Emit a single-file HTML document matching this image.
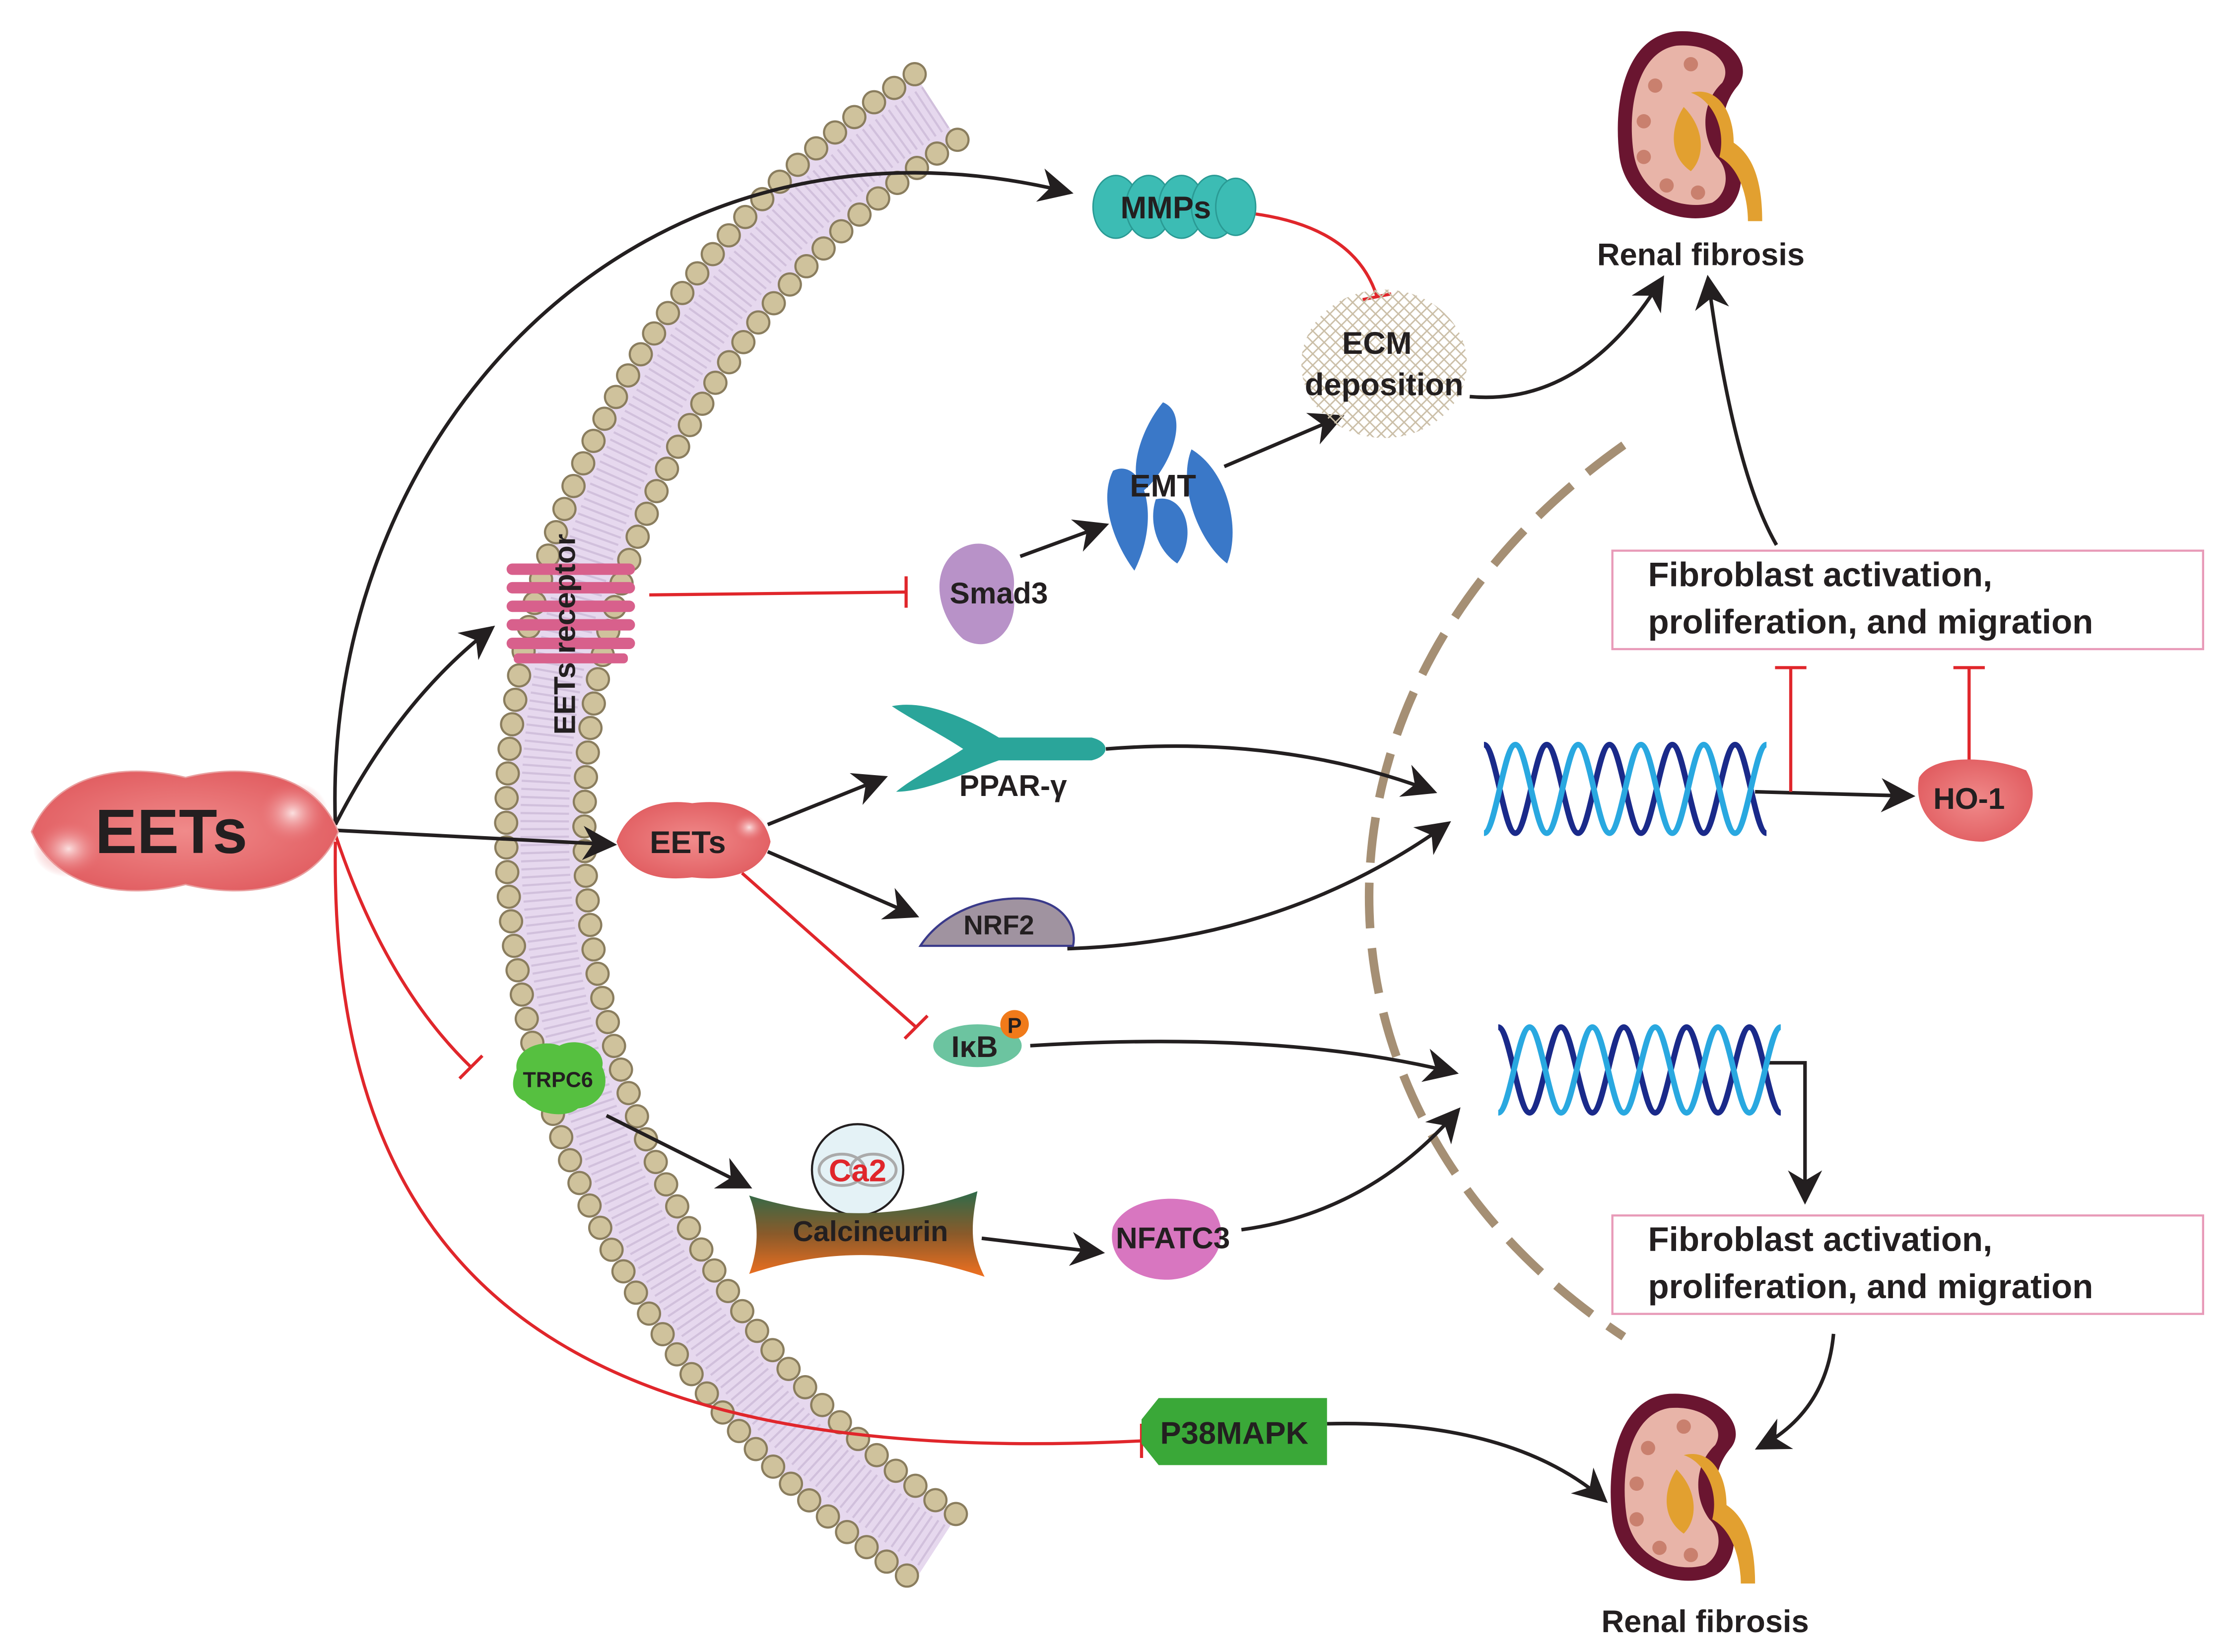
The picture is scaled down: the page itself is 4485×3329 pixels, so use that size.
<!DOCTYPE html>
<html><head><meta charset="utf-8"><style>
html,body{margin:0;padding:0;background:#fff}
svg{display:block}
text{font-family:"Liberation Sans",Arial,sans-serif;font-weight:bold;fill:#231f20}
</style></head><body>
<svg width="4485" height="3329" viewBox="0 0 1560 1158" xmlns="http://www.w3.org/2000/svg">
<defs>
<marker id="ah2" viewBox="0 0 10 10" refX="9" refY="5" markerWidth="24" markerHeight="24" markerUnits="userSpaceOnUse" orient="auto"><path d="M0,0 L10,5 L0,10 L3,5 z" fill="#231f20"/></marker>
<radialGradient id="red" cx="50%" cy="50%" r="60%"><stop offset="0" stop-color="#f08a8a"/><stop offset="1" stop-color="#e05a5e"/></radialGradient>
<radialGradient id="hl" cx="50%" cy="50%" r="50%"><stop offset="0" stop-color="#fbe0e0"/><stop offset="1" stop-color="#e86a6e" stop-opacity="0"/></radialGradient>
<linearGradient id="calc" x1="0" y1="0" x2="0" y2="1"><stop offset="0" stop-color="#2e6b4a"/><stop offset="0.5" stop-color="#8a5a2a"/><stop offset="1" stop-color="#f07020"/></linearGradient>
<pattern id="mesh" width="8" height="8" patternUnits="userSpaceOnUse"><path d="M0,0 L8,8 M8,0 L0,8" stroke="#cbbfa8" stroke-width="1"/></pattern>
</defs>

<!-- membrane: center (985,580) -->
<path d="M 656 75 A 602 602 0 0 0 656 1085" fill="none" stroke="#e6d8ee" stroke-width="52"/>
<path d="M 656 75 A 602 602 0 0 0 656 1085" fill="none" stroke="#b9a5c6" stroke-width="34" stroke-dasharray="1.5 4" opacity="0.45"/>
<path d="M 641 52 A 630 630 0 0 0 641 1108" fill="none" stroke="#8a7d5e" stroke-width="17" stroke-linecap="round" stroke-dasharray="0 17.3"/>
<path d="M 641 52 A 630 630 0 0 0 641 1108" fill="none" stroke="#cfc29c" stroke-width="14" stroke-linecap="round" stroke-dasharray="0 17.3"/>
<path d="M 671 98 A 575 575 0 0 0 671 1062" fill="none" stroke="#8a7d5e" stroke-width="17" stroke-linecap="round" stroke-dasharray="0 17.3"/>
<path d="M 671 98 A 575 575 0 0 0 671 1062" fill="none" stroke="#cfc29c" stroke-width="14" stroke-linecap="round" stroke-dasharray="0 17.3"/>

<!-- nucleus dashed arc -->
<path d="M1138,312 C 900,480 900,780 1138,937" fill="none" stroke="#a58f74" stroke-width="6" stroke-dasharray="32 14"/>

<!-- connectors black -->
<g fill="none" stroke="#231f20" stroke-width="2.5" marker-end="url(#ah2)">
<path d="M235,578 C 225,300 450,60 750,135"/>
<path d="M235,578 Q 280,490 345,440"/>
<path d="M235,582 L 430,592"/>
<path d="M715,390 L 775,368"/>
<path d="M858,327 L 940,292"/>
<path d="M1030,278 Q 1110,285 1165,195"/>
<path d="M1245,382 Q 1215,330 1197,195"/>
<path d="M538,578 L 620,545"/>
<path d="M538,597 L 642,642"/>
<path d="M775,525 Q 900,515 1005,555"/>
<path d="M748,665 Q 900,660 1015,577"/>
<path d="M722,733 Q 900,722 1020,752"/>
<path d="M870,862 Q 960,850 1022,778"/>
<path d="M425,782 L 525,832"/>
<path d="M688,868 L 772,878"/>
<path d="M1230,555 L 1340,558"/>
<path d="M1240,745 L 1265,745 L 1265,842"/>
<path d="M1285,935 Q 1280,990 1232,1015"/>
<path d="M930,998 Q 1060,995 1125,1052"/>
</g>
<!-- red inhibitors -->
<g fill="none" stroke="#e0262b" stroke-width="2.2">
<path d="M235,585 Q 270,690 330,748"/><path d="M322,756 L338,740"/>
<path d="M235,590 C 230,900 400,1030 800,1010"/><path d="M800,998 L800,1022"/>
<path d="M455,417 L 635,415"/><path d="M635,404 L635,426"/>
<path d="M880,150 Q 950,160 965,208"/><path d="M955,210 L975,206"/>
<path d="M520,612 L 642,720"/><path d="M634,728 L650,712"/>
<path d="M1255,555 L1255,468"/><path d="M1244,468 L1266,468"/>
<path d="M1380,535 L1380,468"/><path d="M1369,468 L1391,468"/>
</g>

<!-- big EETs -->
<path d="M22,583 C 40,540 90,535 130,545 C 170,535 220,540 237,583 C 220,625 170,630 130,620 C 90,630 40,625 22,583 Z" fill="url(#red)" stroke="#e9a0a0"/>
<ellipse cx="48" cy="595" rx="25" ry="20" fill="url(#hl)"/>
<ellipse cx="205" cy="570" rx="25" ry="22" fill="url(#hl)"/>
<text x="120" y="598" font-size="44" text-anchor="middle">EETs</text>

<!-- small EETs -->
<path d="M432,590 C 440,565 465,560 485,563 C 510,560 535,565 540,590 C 535,612 510,618 485,615 C 460,618 440,612 432,590 Z" fill="url(#red)"/>
<ellipse cx="525" cy="580" rx="12" ry="10" fill="url(#hl)"/>
<text x="482" y="598" font-size="22" text-anchor="middle">EETs</text>

<!-- receptor -->
<g fill="#d8608c">
<rect x="355" y="395" width="90" height="8" rx="4"/><rect x="355" y="408" width="90" height="8" rx="4"/><rect x="355" y="421" width="90" height="8" rx="4"/><rect x="355" y="434" width="90" height="8" rx="4"/><rect x="355" y="447" width="90" height="8" rx="4"/><rect x="360" y="458" width="80" height="7" rx="3"/>
</g>
<text transform="translate(403,515) rotate(-90)" font-size="21">EETs receptor</text>

<!-- MMPs -->
<g fill="#3cbcb4" stroke="#2a9a94"><ellipse cx="782" cy="145" rx="16" ry="22"/><ellipse cx="805" cy="145" rx="16" ry="22"/><ellipse cx="828" cy="145" rx="16" ry="22"/><ellipse cx="851" cy="145" rx="16" ry="22"/><ellipse cx="866" cy="145" rx="14" ry="20"/></g>
<text x="817" y="153" font-size="22" text-anchor="middle">MMPs</text>

<!-- ECM -->
<ellipse cx="970" cy="255" rx="58" ry="52" fill="url(#mesh)"/>
<text x="965" y="248" font-size="22" text-anchor="middle">ECM</text>
<text x="970" y="277" font-size="22" text-anchor="middle">deposition</text>

<!-- EMT -->
<g fill="#3a78c8"><path d="M815,282 C 835,290 820,330 800,345 C 790,330 800,300 815,282Z"/><path d="M780,330 C 800,320 815,360 795,400 C 780,380 770,350 780,330Z"/><path d="M835,315 C 860,330 870,370 860,395 C 840,380 825,340 835,315Z"/><path d="M810,350 C 830,345 840,375 825,395 C 810,385 805,365 810,350Z"/></g>
<text x="815" y="348" font-size="22" text-anchor="middle">EMT</text>

<!-- Smad3 -->
<path d="M668,388 C 690,370 715,390 710,415 C 715,440 695,460 675,448 C 660,435 650,405 668,388Z" fill="#b892c8"/>
<text x="700" y="423" font-size="21" text-anchor="middle">Smad3</text>

<!-- PPAR -->
<path d="M625,495 C 650,490 680,505 700,517 L 765,517 C 778,520 778,530 765,533 L 700,533 C 680,540 650,555 628,555 C 640,545 660,535 675,525 C 660,515 640,505 625,495Z" fill="#2aa59a"/>
<text x="710" y="558" font-size="21" text-anchor="middle">PPAR-γ</text>

<!-- NRF2 -->
<path d="M645,663 C 660,640 690,628 720,630 C 745,632 755,650 752,663 Z" fill="#a093a0" stroke="#3a3a8a" stroke-width="1.5"/>
<text x="700" y="655" font-size="19" text-anchor="middle">NRF2</text>

<!-- IkB -->
<ellipse cx="685" cy="733" rx="31" ry="15" fill="#6cc4a0"/>
<circle cx="711" cy="718" r="10" fill="#f07a1a"/>
<text x="711" y="724" font-size="15" text-anchor="middle">P</text>
<text x="683" y="741" font-size="21" text-anchor="middle">IκB</text>

<!-- TRPC6 -->
<path d="M362,750 C 360,735 380,728 392,733 C 405,726 425,735 422,748 C 428,760 422,775 405,777 C 395,785 375,780 368,772 C 358,768 358,758 362,750Z" fill="#56c040"/>
<text x="391" y="762" font-size="15" text-anchor="middle">TRPC6</text>

<!-- Ca2 -->
<circle cx="601" cy="820" r="32" fill="#e4f2f6" stroke="#231f20" stroke-width="1.5"/>
<ellipse cx="590" cy="820" rx="16" ry="11" fill="none" stroke="#aaa" stroke-width="2"/>
<ellipse cx="612" cy="820" rx="16" ry="11" fill="none" stroke="#aaa" stroke-width="2"/>
<text x="601" y="828" font-size="22" text-anchor="middle" style="fill:#e0262b">Ca2</text>

<!-- Calcineurin -->
<path d="M525,838 C 580,855 630,855 685,835 C 680,860 680,875 690,895 C 630,875 580,875 525,893 C 532,875 532,855 525,838Z" fill="url(#calc)"/>
<text x="610" y="870" font-size="20" text-anchor="middle">Calcineurin</text>

<!-- NFATC3 -->
<path d="M780,860 C 790,838 830,835 850,848 C 865,868 850,895 820,897 C 795,898 775,882 780,860Z" fill="#d876c0"/>
<text x="822" y="875" font-size="21" text-anchor="middle">NFATC3</text>

<!-- P38MAPK -->
<path d="M800,995 L 812,980 L 930,980 L 930,1027 L 812,1027 L 800,1012Z" fill="#3aa838"/>
<text x="865" y="1012" font-size="22" text-anchor="middle">P38MAPK</text>

<!-- DNA -->
<g fill="none" stroke-width="4">
<path d="M1040,522 c8,0 14,62 22,62 c8,0 14,-62 22,-62 c8,0 14,62 22,62 c8,0 14,-62 22,-62 c8,0 14,62 22,62 c8,0 14,-62 22,-62 c8,0 14,62 22,62 c8,0 14,-62 22,-62 c8,0 14,62 22,62" stroke="#1a2a8a"/>
<path d="M1040,584 c8,0 14,-62 22,-62 c8,0 14,62 22,62 c8,0 14,-62 22,-62 c8,0 14,62 22,62 c8,0 14,-62 22,-62 c8,0 14,62 22,62 c8,0 14,-62 22,-62 c8,0 14,62 22,62 c8,0 14,-62 22,-62" stroke="#29a8e0"/>
<path d="M1050,720 c8,0 14,60 22,60 c8,0 14,-60 22,-60 c8,0 14,60 22,60 c8,0 14,-60 22,-60 c8,0 14,60 22,60 c8,0 14,-60 22,-60 c8,0 14,60 22,60 c8,0 14,-60 22,-60 c8,0 14,60 22,60" stroke="#1a2a8a"/>
<path d="M1050,780 c8,0 14,-60 22,-60 c8,0 14,60 22,60 c8,0 14,-60 22,-60 c8,0 14,60 22,60 c8,0 14,-60 22,-60 c8,0 14,60 22,60 c8,0 14,-60 22,-60 c8,0 14,60 22,60 c8,0 14,-60 22,-60" stroke="#29a8e0"/>
</g>

<!-- HO-1 -->
<path d="M1345,545 C 1355,528 1395,530 1420,540 C 1432,560 1420,585 1390,590 C 1360,590 1340,570 1345,545Z" fill="url(#red)"/>
<text x="1380" y="567" font-size="21" text-anchor="middle">HO-1</text>

<!-- boxes -->
<rect x="1130" y="386" width="414" height="69" fill="#fff" stroke="#e89ab8" stroke-width="1.5"/>
<text x="1155" y="411" font-size="24">Fibroblast activation,</text>
<text x="1155" y="444" font-size="24">proliferation, and migration</text>
<rect x="1130" y="852" width="414" height="69" fill="#fff" stroke="#e89ab8" stroke-width="1.5"/>
<text x="1155" y="877" font-size="24">Fibroblast activation,</text>
<text x="1155" y="910" font-size="24">proliferation, and migration</text>

<!-- kidneys -->
<g id="k1">
<path d="M1175,22 C 1140,25 1130,70 1135,110 C 1140,145 1180,160 1205,150 C 1220,145 1225,120 1215,110 C 1205,95 1205,75 1218,60 C 1230,45 1210,20 1175,22Z" fill="#6a1530"/>
<path d="M1175,32 C 1148,36 1140,75 1145,108 C 1150,138 1180,148 1200,142 C 1212,135 1212,118 1203,110 C 1192,95 1192,72 1207,58 C 1215,45 1200,30 1175,32Z" fill="#e8b4a8"/>
<g fill="#c9806e"><circle cx="1160" cy="60" r="5"/><circle cx="1152" cy="85" r="5"/><circle cx="1152" cy="110" r="5"/><circle cx="1168" cy="130" r="5"/><circle cx="1190" cy="135" r="5"/><circle cx="1185" cy="45" r="5"/></g>
<path d="M1185,65 C 1200,70 1210,90 1205,110 C 1220,118 1225,140 1225,155 L 1235,155 C 1235,130 1230,110 1215,100 C 1215,80 1205,60 1185,65Z" fill="#e2a030"/>
<path d="M1180,75 C 1170,90 1170,110 1185,120 C 1195,110 1195,90 1180,75Z" fill="#e2a030"/>
</g>
<use href="#k1" x="-5" y="955"/>
<text x="1192" y="186" font-size="22" text-anchor="middle">Renal fibrosis</text>
<text x="1195" y="1144" font-size="22" text-anchor="middle">Renal fibrosis</text>
</svg>
</body></html>
